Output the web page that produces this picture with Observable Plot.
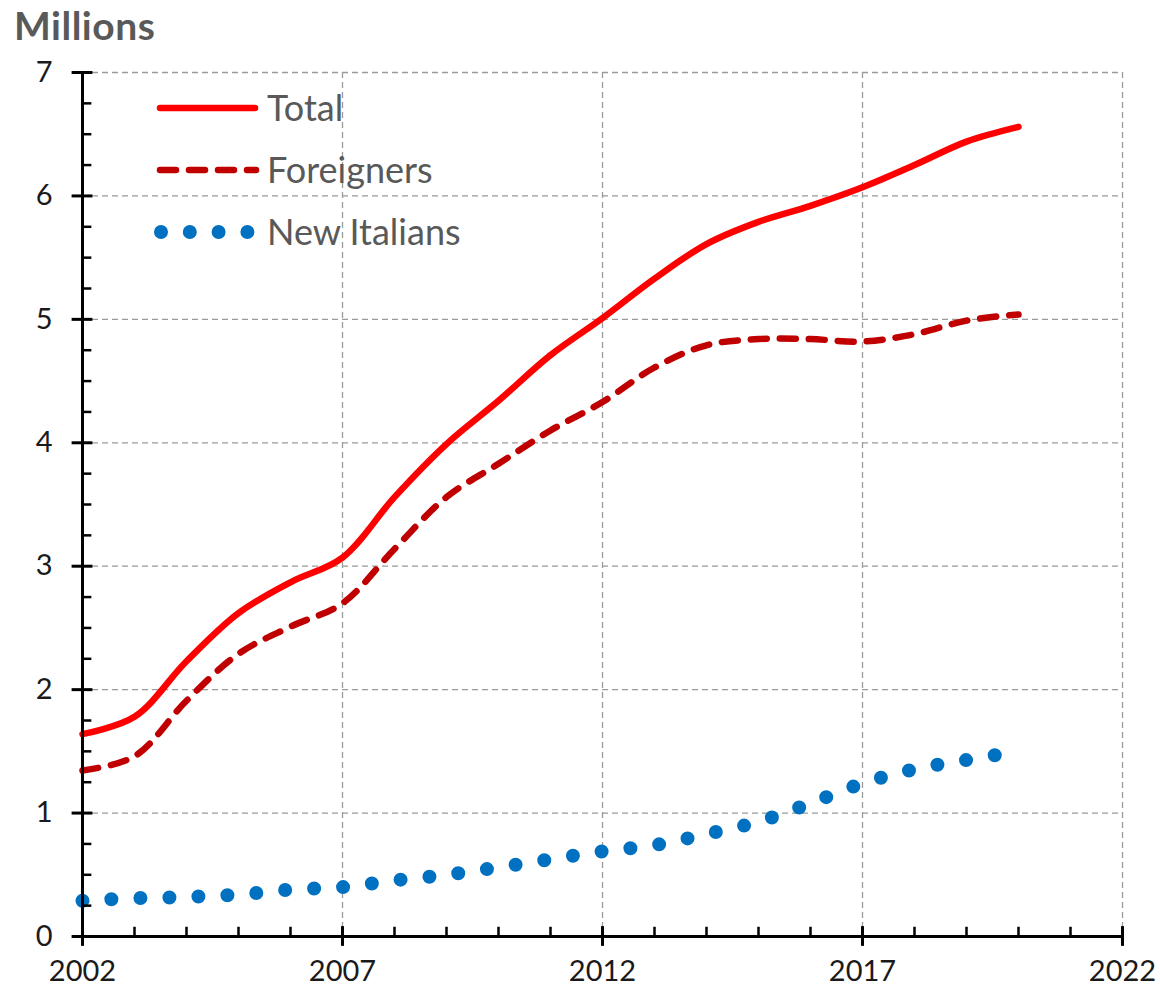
<!DOCTYPE html>
<html>
<head>
<meta charset="utf-8">
<script src="https://cdn.jsdelivr.net/npm/d3@7"></script>
<script src="https://cdn.jsdelivr.net/npm/@observablehq/plot@0.6"></script>
<style>
  body { margin: 0; background: #fff; }
  #wrap { position: relative; width: 1160px; height: 994px; font-family: Lato, "Open Sans", sans-serif; }
  #title { position: absolute; left: 14px; top: 6px; font-size: 39px; font-weight: bold; color: #595959; line-height: 1; letter-spacing: 0.5px; }
  #chart { position: absolute; left: 0; top: 0; }
  #legend { position: absolute; left: 150px; top: 80px; overflow: visible; }
  #legend text { font-family: Lato, "Open Sans", sans-serif; font-size: 36px; fill: #595959; }
</style>
</head>
<body>
<div id="wrap">
  <div id="chart"></div>
  <div id="title">Millions</div>
  <svg id="legend" width="360" height="180"></svg>
</div>
<script>
// ---- data ----
const years = [2002,2003,2004,2005,2006,2007,2008,2009,2010,2011,2012,2013,2014,2015,2016,2017,2018,2019,2020];
const total = [1.64,1.78,2.23,2.62,2.87,3.07,3.56,3.99,4.34,4.71,5.01,5.33,5.61,5.79,5.92,6.07,6.25,6.44,6.56];
const foreigners = [1.345,1.46,1.91,2.29,2.51,2.70,3.14,3.56,3.83,4.10,4.33,4.61,4.79,4.84,4.84,4.82,4.88,4.99,5.04];
const newItalians = [0.29,0.31,0.32,0.34,0.38,0.40,0.455,0.50,0.56,0.625,0.69,0.74,0.83,0.93,1.08,1.24,1.355,1.43,1.50];
const seriesNames = ["Total", "Foreigners", "New Italians"];
const seriesColors = ["#FF0000", "#C00000", "#0070C0"];
const xTicks = [2002, 2007, 2012, 2017, 2022];
const yTicks = [0, 1, 2, 3, 4, 5, 6, 7];
const xMinor = d3.range(2002, 2023).filter(v => !xTicks.includes(v));
const yMinor = d3.range(0, 7.001, 0.25).filter(v => Math.abs(v - Math.round(v)) > 1e-6);

const gridStyle = { stroke: "#9a9a9a", strokeWidth: 1.3, strokeDasharray: "6 4" };

const chart = Plot.plot({
  width: 1160,
  height: 994,
  marginLeft: 82,
  marginRight: 38,
  marginTop: 72,
  marginBottom: 58,
  style: { fontFamily: "Lato, 'Open Sans', sans-serif", fontSize: "29px", color: "#1a1a1a", background: "#fff", overflow: "visible" },
  x: { domain: [2002, 2022], label: null },
  y: { domain: [0, 7], label: null },
  marks: [
    // grid
    Plot.ruleY(yTicks.filter(v => v > 0), gridStyle),
    Plot.ruleX(xTicks.filter(v => v > 2002), gridStyle),
    // series
    Plot.lineY(newItalians, { x: years, y: newItalians, stroke: seriesColors[2], strokeWidth: 14, strokeDasharray: "0 29", strokeLinecap: "round", curve: "catmull-rom" }),
    Plot.lineY(foreigners, { x: years, y: foreigners, stroke: seriesColors[1], strokeWidth: 6.5, strokeDasharray: "16 13", strokeLinecap: "round", curve: "catmull-rom" }),
    Plot.lineY(total, { x: years, y: total, stroke: seriesColors[0], strokeWidth: 6.5, strokeLinecap: "round", curve: "catmull-rom" }),
    // axis lines
    Plot.ruleY([0], { stroke: "#000", strokeWidth: 3 }),
    Plot.ruleX([2002], { stroke: "#000", strokeWidth: 3 }),
    // ticks
    Plot.ruleY(yTicks, { x1: 2001.8, x2: 2002.2, stroke: "#000", strokeWidth: 3 }),
    Plot.ruleY(yMinor, { x1: 2002, x2: 2002.18, stroke: "#000", strokeWidth: 2.5 }),
    Plot.ruleX(xTicks, { y1: -0.08, y2: 0.08, stroke: "#000", strokeWidth: 3 }),
    Plot.ruleX(xMinor, { y1: 0, y2: 0.075, stroke: "#000", strokeWidth: 2.5 }),
    // tick labels
    Plot.axisY(yTicks, { tickSize: 0, tickPadding: 30, tickFormat: d => String(d), label: null }),
    Plot.axisX(xTicks, { tickSize: 0, tickPadding: 24, tickFormat: d => String(d), label: null })
  ]
});
document.getElementById("chart").appendChild(chart);

// ---- legend ----
const lg = d3.select("#legend");
const rowsY = [28, 90, 152];
const sampleStyles = [
  { width: 6.5, dash: null, x1: 10, x2: 105 },
  { width: 6.5, dash: "16 13", x1: 10, x2: 106 },
  { width: 14, dash: "0 28.8", x1: 11, x2: 98 }
];
seriesNames.forEach((name, i) => {
  const s = sampleStyles[i];
  const ln = lg.append("line")
    .attr("x1", s.x1).attr("x2", s.x2)
    .attr("y1", rowsY[i]).attr("y2", rowsY[i])
    .attr("stroke", seriesColors[i])
    .attr("stroke-width", s.width)
    .attr("stroke-linecap", "round");
  if (s.dash) ln.attr("stroke-dasharray", s.dash);
  lg.append("text")
    .attr("x", 117).attr("y", rowsY[i])
    .attr("dy", "0.36em")
    .text(name);
});
</script>
</body>
</html>
